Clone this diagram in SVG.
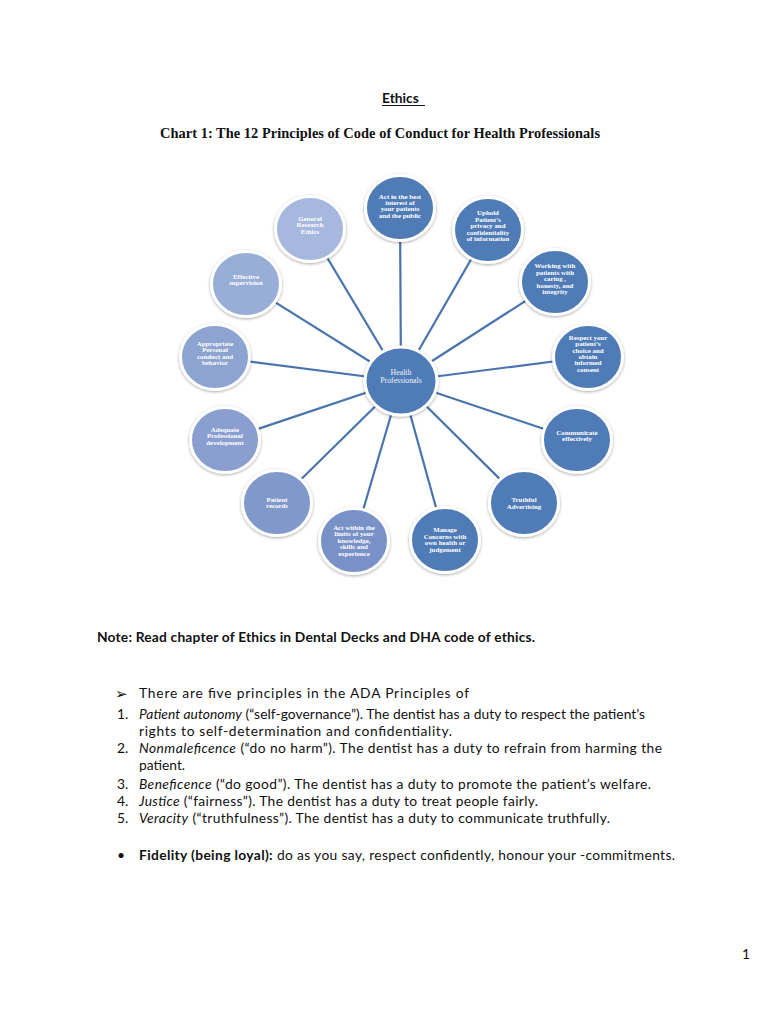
<svg xmlns="http://www.w3.org/2000/svg" width="768" height="1024" viewBox="0 0 768 1024">
<defs>
<filter id="sh" x="-30%" y="-30%" width="160%" height="160%">
<feDropShadow dx="0" dy="1" stdDeviation="1.6" flood-color="#000" flood-opacity="0.35"/>
</filter>
<style>
.bg{fill:#ffffff}
.node{stroke:#ffffff;stroke-width:3;filter:url(#sh)}
.dark{fill:#4f7bb6}
.nt{font-family:"Liberation Serif","Times New Roman",serif;font-weight:bold;font-size:6.9px;fill:#ffffff;text-anchor:middle}
.ct{font-family:"Liberation Serif","Times New Roman",serif;font-size:7.8px;fill:#eef2fa;text-anchor:middle}
.conn line{stroke:#4a74ad;stroke-width:2.2}
.body{font-family:Lato,"Liberation Sans",sans-serif;font-size:13.8px;fill:#111111}
.b{font-weight:bold}
.i{font-style:italic}
</style>
</defs>
<rect class="bg" x="0" y="0" width="768" height="1024"/>

<text x="382" y="103" class="body b" font-size="13.5">Ethics</text>
<line x1="382" y1="105.5" x2="425" y2="105.5" stroke="#111" stroke-width="1"/>
<text x="160" y="138" font-family="'Liberation Serif','Times New Roman',serif" font-weight="bold" font-size="14.4" fill="#111" textLength="440" lengthAdjust="spacing">Chart 1: The 12 Principles of Code of Conduct for Health Professionals</text>

<g id="connectors" class="conn">
<line x1="401" y1="381" x2="400" y2="209"/>
<line x1="401" y1="381" x2="310" y2="229"/>
<line x1="401" y1="381" x2="488" y2="230"/>
<line x1="401" y1="381" x2="555" y2="282"/>
<line x1="401" y1="381" x2="588" y2="357"/>
<line x1="401" y1="381" x2="577" y2="440"/>
<line x1="401" y1="381" x2="524" y2="503"/>
<line x1="401" y1="381" x2="445" y2="540"/>
<line x1="401" y1="381" x2="354" y2="541"/>
<line x1="401" y1="381" x2="277" y2="503"/>
<line x1="401" y1="381" x2="225" y2="440"/>
<line x1="401" y1="381" x2="215" y2="357"/>
<line x1="401" y1="381" x2="246" y2="284"/>
</g>

<g id="center">
<ellipse class="node dark" cx="401" cy="381" rx="36" ry="34"/>
<text class="ct" x="401" y="375">Health<tspan x="401" dy="8">Professionals</tspan></text>
</g>

<g id="n-best-interest">
<ellipse class="node dark" cx="400" cy="208" rx="34.5" ry="32.5"/>
<text class="nt" x="400" y="198.5">Act in the best<tspan x="400" dy="6.4">interest of</tspan><tspan x="400" dy="6.4">your patients</tspan><tspan x="400" dy="6.4">and the public</tspan></text>
</g>

<g id="n-research">
<ellipse class="node" fill="#a6b8dd" cx="310" cy="229" rx="34.5" ry="32.5"/>
<text class="nt" x="310" y="221">General<tspan x="310" dy="6.4">Research</tspan><tspan x="310" dy="6.4">Ethics</tspan></text>
</g>

<g id="n-privacy">
<ellipse class="node dark" cx="488" cy="230" rx="34.5" ry="32.5"/>
<text class="nt" x="488" y="215">Uphold<tspan x="488" dy="6.5">Patient’s</tspan><tspan x="488" dy="6.5">privacy and</tspan><tspan x="488" dy="6.5">confidentiality</tspan><tspan x="488" dy="6.5">of information</tspan></text>
</g>

<g id="n-working">
<ellipse class="node dark" cx="555" cy="282" rx="34.5" ry="32.5"/>
<text class="nt" x="555" y="268">Working with<tspan x="555" dy="6.5">patients with</tspan><tspan x="555" dy="6.5">caring ,</tspan><tspan x="555" dy="6.5">honesty, and</tspan><tspan x="555" dy="6.5">integrity</tspan></text>
</g>

<g id="n-respect">
<ellipse class="node dark" cx="588" cy="357" rx="34.5" ry="32.5"/>
<text class="nt" x="588" y="340">Respect your<tspan x="588" dy="6.3">patient’s</tspan><tspan x="588" dy="6.3">choice and</tspan><tspan x="588" dy="6.3">obtain</tspan><tspan x="588" dy="6.3">informed</tspan><tspan x="588" dy="6.3">consent</tspan></text>
</g>

<g id="n-communicate">
<ellipse class="node dark" cx="577" cy="440" rx="34.5" ry="32.5"/>
<text class="nt" x="577" y="435">Communicate<tspan x="577" dy="6.4">effectively</tspan></text>
</g>

<g id="n-advertising">
<ellipse class="node dark" cx="524" cy="503" rx="34.5" ry="32.5"/>
<text class="nt" x="524" y="502">Truthful<tspan x="524" dy="6.6">Advertising</tspan></text>
</g>

<g id="n-concerns">
<ellipse class="node dark" cx="445" cy="540" rx="34.5" ry="32.5"/>
<text class="nt" x="445" y="532">Manage<tspan x="445" dy="6.5">Concerns with</tspan><tspan x="445" dy="6.5">own health or</tspan><tspan x="445" dy="6.5">judgement</tspan></text>
</g>

<g id="n-limits">
<ellipse class="node" fill="#7891c6" cx="354" cy="541" rx="34.5" ry="32.5"/>
<text class="nt" x="354" y="529.5">Act within the<tspan x="354" dy="6.5">limits of your</tspan><tspan x="354" dy="6.5">knowledge,</tspan><tspan x="354" dy="6.5">skills and</tspan><tspan x="354" dy="6.5">experience</tspan></text>
</g>

<g id="n-records">
<ellipse class="node" fill="#8198cb" cx="277" cy="503" rx="34.5" ry="32.5"/>
<text class="nt" x="277" y="501.5">Patient<tspan x="277" dy="6.8">records</tspan></text>
</g>

<g id="n-development">
<ellipse class="node" fill="#8a9fcf" cx="225" cy="440" rx="34.5" ry="32.5"/>
<text class="nt" x="225" y="432">Adequate<tspan x="225" dy="6.4">Professional</tspan><tspan x="225" dy="6.4">development</tspan></text>
</g>

<g id="n-conduct">
<ellipse class="node" fill="#8da3d0" cx="215" cy="357" rx="34.5" ry="32.5"/>
<text class="nt" x="215" y="346">Appropriate<tspan x="215" dy="6.4">Personal</tspan><tspan x="215" dy="6.4">conduct and</tspan><tspan x="215" dy="6.4">behavior</tspan></text>
</g>

<g id="n-supervision">
<ellipse class="node" fill="#99aed7" cx="246" cy="284" rx="34.5" ry="32.5"/>
<text class="nt" x="246" y="279">Effective<tspan x="246" dy="6.4">supervision</tspan></text>
</g>

<text class="body b" x="97" y="642" textLength="438" lengthAdjust="spacing">Note: Read chapter of Ethics in Dental Decks and DHA code of ethics.</text>

<text x="115" y="699" font-family="'DejaVu Sans',sans-serif" font-size="15" fill="#111">➢</text>
<text class="body" x="139" y="698" textLength="330" lengthAdjust="spacing">There are five principles in the ADA Principles of</text>

<text class="body" x="117" y="719">1.</text>
<text class="body" x="139" y="719" textLength="506" lengthAdjust="spacing"><tspan class="i">Patient autonomy</tspan> (“self-governance”). The dentist has a duty to respect the patient’s</text>
<text class="body" x="139" y="736" textLength="313" lengthAdjust="spacing">rights to self-determination and confidentiality.</text>

<text class="body" x="117" y="753">2.</text>
<text class="body" x="139" y="753" textLength="523" lengthAdjust="spacing"><tspan class="i">Nonmaleficence</tspan> (“do no harm”). The dentist has a duty to refrain from harming the</text>
<text class="body" x="139" y="770">patient.</text>

<text class="body" x="117" y="789">3.</text>
<text class="body" x="139" y="789" textLength="512" lengthAdjust="spacing"><tspan class="i">Beneficence</tspan> (“do good”). The dentist has a duty to promote the patient’s welfare.</text>

<text class="body" x="117" y="806">4.</text>
<text class="body" x="139" y="806" textLength="399" lengthAdjust="spacing"><tspan class="i">Justice</tspan> (“fairness”). The dentist has a duty to treat people fairly.</text>

<text class="body" x="117" y="823">5.</text>
<text class="body" x="139" y="823" textLength="471" lengthAdjust="spacing"><tspan class="i">Veracity</tspan> (“truthfulness”). The dentist has a duty to communicate truthfully.</text>

<text class="body" x="117" y="860">•</text>
<text class="body" x="139" y="860" textLength="536" lengthAdjust="spacing"><tspan class="b">Fidelity (being loyal):</tspan> do as you say, respect confidently, honour your -commitments.</text>

<text class="body" x="742" y="959" font-size="13">1</text>
</svg>
